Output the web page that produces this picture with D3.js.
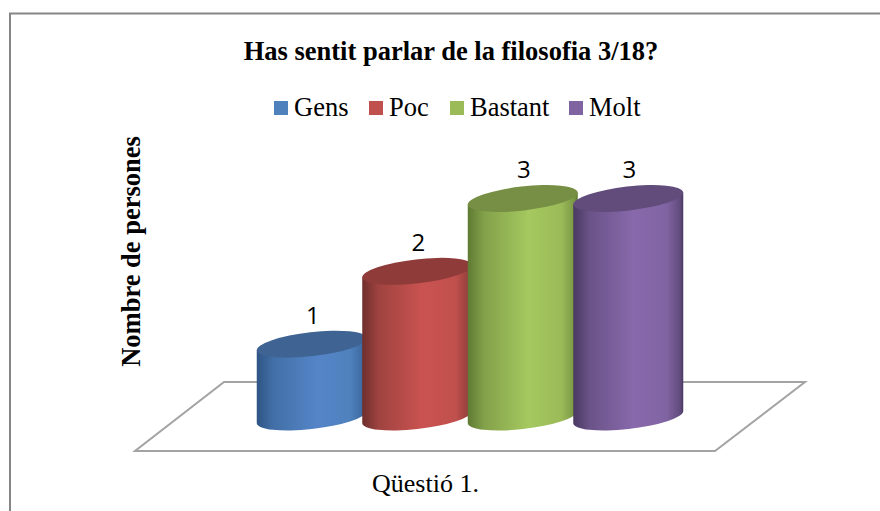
<!DOCTYPE html>
<html>
<head>
<meta charset="utf-8">
<script src="https://cdn.jsdelivr.net/npm/d3@7"></script>
<style>
  html, body { margin: 0; padding: 0; background: #fff; overflow: hidden; }
  svg { display: block; }
</style>
</head>
<body>
<div id="chart"></div>
<script>
const title = "Has sentit parlar de la filosofia 3/18?"
const yTitle = "Nombre de persones"
const xTitle = "Qüestió 1."
const categories = ["Gens", "Poc", "Bastant", "Molt"]
const values = [1, 2, 3, 3]
// base, shadow, mid, light, top face
const baseColors = ["#4f81bd", "#c0504d", "#9bbb59", "#8064a2"]
const lightColors = ["#5585c8", "#ca5350", "#a5c85f", "#8869ac"]
const sideColors = ["#2e5484", "#6e2f2d", "#5f7a33", "#493960"]
const topColors = ["#3f6493", "#8e3b39", "#768f44", "#624c7c"]

const width = 880, height = 511
const svg = d3.select("#chart").append("svg").attr("width", width).attr("height", height)
const serif = "'Liberation Serif', serif"

// frame (runs off right and bottom of the picture)
svg.append("path")
  .attr("d", "M10,511V13.5H880")
  .attr("fill", "none")
  .attr("stroke", "#868686")
  .attr("stroke-width", 2)

svg.append("text")
  .attr("x", 451).attr("y", 60)
  .attr("text-anchor", "middle")
  .style("font", "bold 26.5px " + serif)
  .text(title)

// legend
const legendX = [274, 369, 450, 569]
const legend = svg.selectAll("g.legend").data(categories).enter().append("g")
  .attr("class", "legend")
  .attr("transform", (d, i) => "translate(" + legendX[i] + ",101)")
legend.append("rect")
  .attr("width", 14).attr("height", 14)
  .attr("fill", (d, i) => baseColors[i])
legend.append("text")
  .attr("x", 20).attr("y", 15)
  .style("font", "26.5px " + serif)
  .text(d => d)

svg.append("text")
  .attr("transform", "translate(140,251.5) rotate(-90)")
  .attr("text-anchor", "middle")
  .style("font", "bold 26.5px " + serif)
  .text(yTitle)

svg.append("text")
  .attr("x", 425.5).attr("y", 492)
  .attr("text-anchor", "middle")
  .style("font", "26px " + serif)
  .text(xTitle)

// floor
svg.append("path")
  .attr("d", "M224,382H805L715,451H135Z")
  .attr("fill", "#fff")
  .attr("stroke", "#a3a3a3")
  .attr("stroke-width", 2)

// scales
const x = d3.scaleBand().domain(categories).range([259, 681]).padding(0)
const y = d3.scaleLinear().domain([0, 3]).range([417, 198.5])

// cylinder ellipse: semi axes, tilt
const a = 55.3, b = 12, tilt = 6.5
const dx = 55, dy = 6

const defs = svg.append("defs")
categories.forEach(function (c, i) {
  const g = defs.append("linearGradient").attr("id", "grad" + i)
  const stops = [[0, sideColors[i]], [0.15, d3.interpolateRgb(sideColors[i], baseColors[i])(0.6)],
    [0.55, lightColors[i]], [0.85, baseColors[i]], [0.97, d3.interpolateRgb(sideColors[i], baseColors[i])(0.45)], [1, sideColors[i]]]
  stops.forEach(s => g.append("stop").attr("offset", s[0]).attr("stop-color", s[1]))
})

const cyl = svg.selectAll("g.cyl").data(categories).enter().append("g").attr("class", "cyl")

cyl.append("path")
  .attr("fill", (d, i) => "url(#grad" + i + ")")
  .attr("d", function (d, i) {
    const cx = x(d) + x.bandwidth() / 2
    const y0 = y(0), y1 = y(values[i])
    return "M" + (cx - dx) + "," + (y1 + dy) +
      "L" + (cx - dx) + "," + (y0 + dy) +
      "A" + a + "," + b + " " + (-tilt) + " 0 0 " + (cx + dx) + "," + (y0 - dy) +
      "L" + (cx + dx) + "," + (y1 - dy) + "Z"
  })

cyl.append("ellipse")
  .attr("rx", a).attr("ry", b)
  .attr("fill", (d, i) => topColors[i])
  .attr("transform", (d, i) => "translate(" + (x(d) + x.bandwidth() / 2) + "," + y(values[i]) + ") rotate(" + (-tilt) + ")")

cyl.append("text")
  .attr("x", d => x(d) + x.bandwidth() / 2 + 1)
  .attr("y", (d, i) => y(values[i]) - 20.5)
  .attr("text-anchor", "middle")
  .style("font", "24px 'Open Sans', sans-serif")
  .text((d, i) => values[i])
</script>
</body>
</html>
